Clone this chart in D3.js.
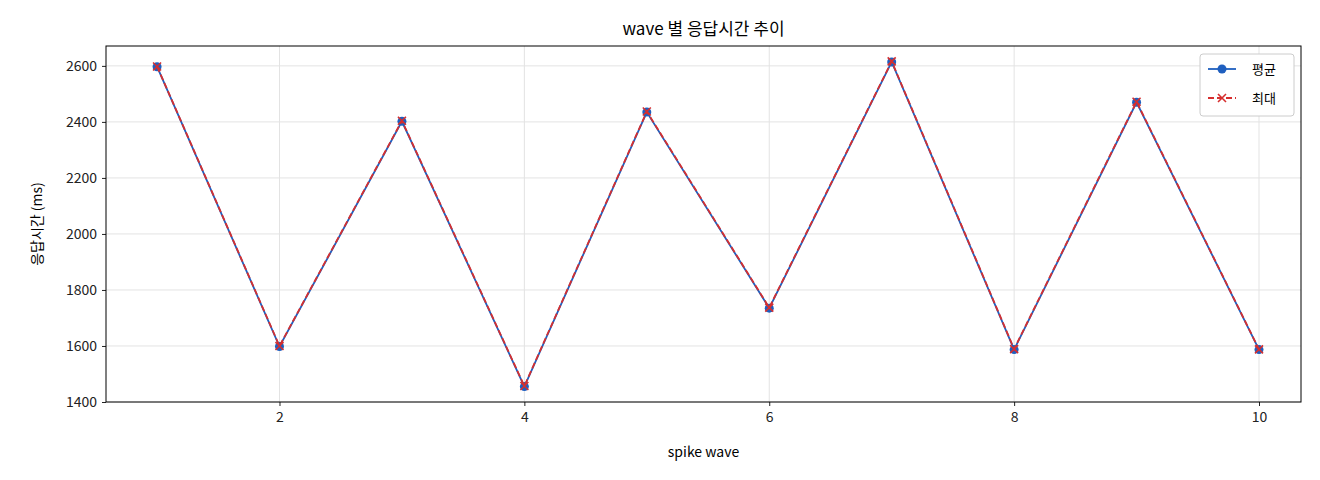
<!DOCTYPE html>
<html><head><meta charset="utf-8">
<script src="https://cdn.jsdelivr.net/npm/d3@7"></script>
<style>body{margin:0;background:#fff}text{font-family:"Noto Sans CJK KR","Noto Sans",sans-serif}</style>
</head><body><svg id="c" width="1320" height="480"></svg>
<script>
const waves=[1,2,3,4,5,6,7,8,9,10];
const avgVals=[2597,1598,2402,1455,2435,1735,2614,1587,2470,1587];
const maxVals=[2598,1600,2404,1457,2437,1737,2616,1589,2472,1588];
const yTicks=[1400,1600,1800,2000,2200,2400,2600];
const xTicks=[2,4,6,8,10];
const L=106,R=1301,T=46,B=402;
const svg=d3.select("#c");
const x=d3.scaleLinear().domain([0.583,10.343]).range([L,R]);
const y=d3.scaleLinear().domain([1400,2671]).range([B,T]);
const g=svg.append("g");
g.selectAll(".gx").data(xTicks).join("line").attr("x1",d=>x(d)).attr("x2",d=>x(d)).attr("y1",T).attr("y2",B).attr("stroke","#e3e3e3");
g.selectAll(".gy").data(yTicks).join("line").attr("y1",d=>y(d)).attr("y2",d=>y(d)).attr("x1",L).attr("x2",R).attr("stroke","#e3e3e3");
const xa=svg.append("g").attr("transform",`translate(0,${B})`).call(d3.axisBottom(x).tickValues(xTicks).tickFormat(d3.format("d")).tickSize(4).tickPadding(6));
const ya=svg.append("g").attr("transform",`translate(${L},0)`).call(d3.axisLeft(y).tickValues(yTicks).tickFormat(d3.format("d")).tickSize(4).tickPadding(5));
[xa,ya].forEach(a=>{a.select(".domain").remove();a.selectAll("text").attr("font-size",14).attr("fill","#222");a.selectAll("line").attr("stroke","#222");});
svg.append("rect").attr("x",L).attr("y",T).attr("width",R-L).attr("height",B-T).attr("fill","none").attr("stroke","#000");
const line=d3.line().x((d,i)=>x(waves[i])).y(d=>y(d));
svg.append("path").datum(avgVals).attr("d",line).attr("fill","none").attr("stroke","#1f5fbf").attr("stroke-width",1.8);
svg.selectAll(".dot").data(avgVals).join("circle").attr("cx",(d,i)=>x(waves[i])).attr("cy",d=>y(d)).attr("r",4.5).attr("fill","#1f5fbf");
svg.append("path").datum(maxVals).attr("d",line).attr("fill","none").attr("stroke","#d62f2f").attr("stroke-width",1.8).attr("stroke-dasharray","6,3");
const xm=(cx,cy)=>`M${cx-4},${cy-4}L${cx+4},${cy+4}M${cx-4},${cy+4}L${cx+4},${cy-4}`;
svg.selectAll(".xm").data(maxVals).join("path").attr("d",(d,i)=>xm(x(waves[i]),y(d))).attr("stroke","#d62f2f").attr("stroke-width",1.6);
svg.append("text").attr("x",(L+R)/2).attr("y",35).attr("text-anchor","middle").attr("font-size",17).text("wave 별 응답시간 추이");
svg.append("text").attr("x",(L+R)/2).attr("y",457).attr("text-anchor","middle").attr("font-size",14).text("spike wave");
svg.append("text").attr("transform",`translate(42,${(T+B)/2}) rotate(-90)`).attr("text-anchor","middle").attr("font-size",14).text("응답시간 (ms)");
const lg=svg.append("g").attr("transform","translate(1200,54)");
lg.append("rect").attr("width",94).attr("height",62).attr("rx",3).attr("fill","#fff").attr("stroke","#ccc");
lg.append("line").attr("x1",8).attr("x2",36).attr("y1",15).attr("y2",15).attr("stroke","#1f5fbf").attr("stroke-width",1.8);
lg.append("circle").attr("cx",22).attr("cy",15).attr("r",4.5).attr("fill","#1f5fbf");
lg.append("text").attr("x",52).attr("y",20).attr("font-size",13).text("평균");
lg.append("line").attr("x1",8).attr("x2",36).attr("y1",44).attr("y2",44).attr("stroke","#d62f2f").attr("stroke-width",1.8).attr("stroke-dasharray","6,3");
lg.append("path").attr("d",xm(22,44)).attr("stroke","#d62f2f").attr("stroke-width",1.6);
lg.append("text").attr("x",52).attr("y",49).attr("font-size",13).text("최대");
</script></body></html>
